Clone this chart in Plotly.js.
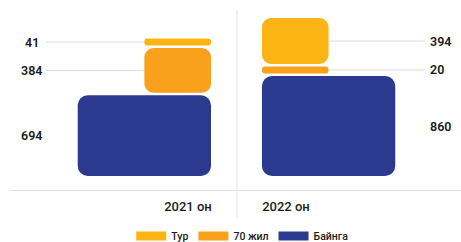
<!DOCTYPE html>
<html><head><meta charset="utf-8">
<script src="https://cdn.plot.ly/plotly-3.0.1.min.js"></script>
<style>html,body{margin:0;padding:0;background:#fff}#chart{width:461px;height:242px}</style>
</head><body><div id="chart"></div>
<script>
const categories = ['2021 он', '2022 он'];
const bainga = [694, 860];
const jil70 = [384, 20];
const tur = [41, 394];
const seriesNames = ['Байнга', '70 жил', 'Тур'];
const seriesColors = ['#2B3A8E', '#F9A11B', '#FCB415'];

const series = [bainga, jil70, tur];
const GAP = 22, MIN_H = 60;
const WIDE = 1.36, NARROW = 0.68;
const EDGE_L = 0.235, EDGE_R = -0.245;
const RADII = [10, 9, 9];
const LBL_L = -1.592, LBL_R = 2.449, LINE_L = -1.449, LINE_R = 2.418;
const xs = categories.map((c, i) => i);

const traces = [];
const shapes = [];
const annotations = [];
const bases = xs.map(() => 0);

series.forEach((vals, s) => {
  const w = s === 0 ? WIDE : NARROW;
  const widths = xs.map(() => w);
  const offsets = xs.map(i => i === 0 ? EDGE_L - w : EDGE_R);
  const h = vals.map(v => Math.max(v, MIN_H));
  const starts = bases.slice();
  const centers = h.map((hh, i) => starts[i] + hh / 2);
  traces.push({
    type: 'bar', name: seriesNames[s], x: xs, base: starts, y: h,
    width: widths, offset: offsets,
    marker: {color: seriesColors[s], cornerradius: RADII[s], line: {width: 0}},
    showlegend: false, hoverinfo: 'skip'
  });
  xs.forEach(i => {
    const left = i === 0;
    annotations.push({
      x: left ? LBL_L : LBL_R, y: centers[i], xref: 'x', yref: 'y',
      text: String(vals[i]), showarrow: false,
      xanchor: left ? 'center' : 'left', yanchor: 'middle',
      font: {family: 'Roboto, sans-serif', size: 12.5, color: '#1c1c1c', weight: 600}
    });
    if (s > 0) {
      const barL = xs[i] + offsets[i], barR = barL + w;
      shapes.push({
        type: 'line', xref: 'x', yref: 'y', layer: 'below',
        x0: left ? LINE_L : barR, x1: left ? barL : LINE_R,
        y0: centers[i], y1: centers[i],
        line: {color: '#dcdcdc', width: 1}
      });
    }
  });
  h.forEach((hh, i) => bases[i] += hh + GAP);
});

// legend entries
[2, 1, 0].forEach(s => {
  traces.push({type: 'scatter', mode: 'lines', x: [null], y: [null],
    name: seriesNames[s], line: {color: seriesColors[s], width: 9}, hoverinfo: 'skip'});
});

shapes.push({type: 'line', xref: 'x', yref: 'paper', x0: 0.5, x1: 0.5, y0: -0.1556, y1: 1,
  line: {color: '#e4e4e4', width: 1}, layer: 'below'});

const layout = {
  width: 461, height: 242,
  margin: {l: 10, r: 0, t: 10, b: 52, autoexpand: false},
  paper_bgcolor: '#fff', plot_bgcolor: '#fff',
  barmode: 'overlay',
  font: {family: 'Roboto, sans-serif', color: '#1c1c1c'},
  xaxis: {range: [-1.816, 2.786], tickvals: xs, ticktext: categories,
    showgrid: false, zeroline: false, showline: true, linecolor: '#e2e2e2', linewidth: 1,
    ticks: '', ticklabelstandoff: 4, fixedrange: true, automargin: false,
    tickfont: {family: 'Roboto, sans-serif', size: 13, color: '#1c1c1c', weight: 500}},
  yaxis: {range: [-120.4, 1427.6], visible: false, fixedrange: true},
  showlegend: true,
  legend: {orientation: 'h', x: 0.515, xanchor: 'center', y: -0.175, yanchor: 'top',
    font: {family: 'Roboto, sans-serif', size: 10.5, color: '#1c1c1c', weight: 500},
    itemwidth: 30, bgcolor: 'rgba(0,0,0,0)'},
  shapes: shapes,
  annotations: annotations
};

Plotly.newPlot('chart', traces, layout, {displayModeBar: false, staticPlot: true});
</script>
</body></html>
